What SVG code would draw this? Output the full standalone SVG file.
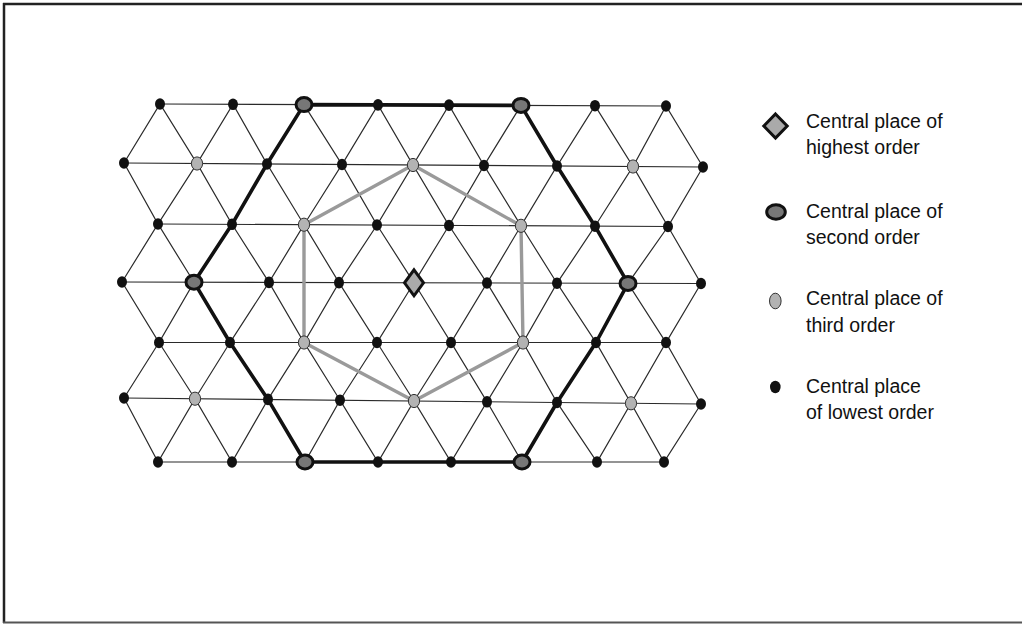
<svg xmlns="http://www.w3.org/2000/svg" xmlns:xlink="http://www.w3.org/1999/xlink" width="1022" height="624" viewBox="0 0 1022 624">
<style>
.lat{fill:none;stroke:#2a2a2a;stroke-width:1.2;stroke-linejoin:miter}
.hexb{fill:none;stroke:#111;stroke-width:3.6;stroke-linejoin:round}
.hexg{fill:none;stroke:#9a9a9a;stroke-width:3.4;stroke-linejoin:round}
.lo{fill:#111}
.th{fill:#b3b3b3;stroke:#333;stroke-width:1}
.se{fill:#777;stroke:#111;stroke-width:3}
.di{fill:#aaa;stroke:#111;stroke-width:3;stroke-linejoin:miter}
.lbl{font-family:"Liberation Sans",Arial,sans-serif;font-size:19.5px;fill:#111}
</style>
<defs>
<ellipse id="lo" cx="0" cy="0" rx="5" ry="5.8" class="lo"/>
<ellipse id="th" cx="0" cy="0" rx="5.6" ry="6.6" class="th"/>
<ellipse id="se" cx="0" cy="0" rx="8" ry="7" class="se"/>
</defs>
<rect width="1022" height="624" fill="#fff"/>
<g id="frame" fill="none">
<line x1="3" y1="4" x2="1022" y2="4" stroke="#222" stroke-width="2.5"/>
<line x1="4" y1="3" x2="4" y2="623" stroke="#222" stroke-width="2.5"/>
<line x1="3" y1="622.5" x2="1022" y2="622.5" stroke="#555" stroke-width="1.8"/>
</g>
<g id="connectors">
<g id="lattice" class="lat">
<line x1="160" y1="104" x2="666" y2="106"/>
<line x1="124" y1="163" x2="703" y2="167"/>
<line x1="158" y1="224" x2="668" y2="226.5"/>
<line x1="122" y1="282" x2="701" y2="283.5"/>
<line x1="159" y1="342.5" x2="666" y2="342.5"/>
<line x1="124" y1="398" x2="701" y2="404"/>
<line x1="158" y1="462" x2="664" y2="462"/>
<polyline points="124,163 160,104 197,163.5 233,104.3 267,164 304,104.6 342,164.5 378,104.9 413,165 449,105.1 484,165.5 521,105.4 557,166 595,105.7 633,166.5 666,106 703,167"/>
<polyline points="124,163 158,224 197,163.5 232,224.3 267,164 304,224.7 342,164.5 377,225 413,165 449,225.5 484,165.5 521,225.8 557,166 595,226.2 633,166.5 668,226.5 703,167"/>
<polyline points="122,282 158,224 194,282.2 232,224.3 269,282.4 304,224.7 339,282.6 377,225 414,282.8 449,225.5 487,283 521,225.8 557,283.2 595,226.2 628,283.4 668,226.5 701,283.5"/>
<polyline points="122,282 159,342.5 194,282.2 230,342.5 269,282.4 304,342.5 339,282.6 377,342.5 414,282.8 451,342.5 487,283 523,342.5 557,283.2 596,342.5 628,283.4 666,342.5 701,283.5"/>
<polyline points="124,398 159,342.5 195,398.7 230,342.5 268,399.4 304,342.5 340,400.2 377,342.5 414,401 451,342.5 487,401.8 523,342.5 557,402.5 596,342.5 631,403.3 666,342.5 701,404"/>
<polyline points="124,398 158,462 195,398.7 232,462 268,399.4 305,462 340,400.2 378,462 414,401 451,462 487,401.8 522,462 557,402.5 597,462 631,403.3 664,462 701,404"/>
</g>
<polygon id="hex-third" class="hexg" points="413,165 521,225.8 523,342.5 414,401 304,342.5 304,224.7"/>
<polygon id="hex-second" class="hexb" points="304,104.6 378,104.9 449,105.1 521,105.4 557,166 595,226.2 628,283.4 596,342.5 557,402.5 522,462 451,462 378,462 305,462 268,399.4 230,342.5 194,282.2 232,224.3 267,164"/>
</g>
<g id="nodes">
<g id="r0n0"><use xlink:href="#lo" x="160" y="104"/></g>
<g id="r0n1"><use xlink:href="#lo" x="233" y="104.3"/></g>
<g id="r0n2"><use xlink:href="#se" x="304" y="104.6"/></g>
<g id="r0n3"><use xlink:href="#lo" x="378" y="104.9"/></g>
<g id="r0n4"><use xlink:href="#lo" x="449" y="105.1"/></g>
<g id="r0n5"><use xlink:href="#se" x="521" y="105.4"/></g>
<g id="r0n6"><use xlink:href="#lo" x="595" y="105.7"/></g>
<g id="r0n7"><use xlink:href="#lo" x="666" y="106"/></g>

<g id="r1n0"><use xlink:href="#lo" x="124" y="163"/></g>
<g id="r1n1"><use xlink:href="#th" x="197" y="163.5"/></g>
<g id="r1n2"><use xlink:href="#lo" x="267" y="164"/></g>
<g id="r1n3"><use xlink:href="#lo" x="342" y="164.5"/></g>
<g id="r1n4"><use xlink:href="#th" x="413" y="165"/></g>
<g id="r1n5"><use xlink:href="#lo" x="484" y="165.5"/></g>
<g id="r1n6"><use xlink:href="#lo" x="557" y="166"/></g>
<g id="r1n7"><use xlink:href="#th" x="633" y="166.5"/></g>
<g id="r1n8"><use xlink:href="#lo" x="703" y="167"/></g>

<g id="r2n0"><use xlink:href="#lo" x="158" y="224"/></g>
<g id="r2n1"><use xlink:href="#lo" x="232" y="224.3"/></g>
<g id="r2n2"><use xlink:href="#th" x="304" y="224.7"/></g>
<g id="r2n3"><use xlink:href="#lo" x="377" y="225"/></g>
<g id="r2n4"><use xlink:href="#lo" x="449" y="225.5"/></g>
<g id="r2n5"><use xlink:href="#th" x="521" y="225.8"/></g>
<g id="r2n6"><use xlink:href="#lo" x="595" y="226.2"/></g>
<g id="r2n7"><use xlink:href="#lo" x="668" y="226.5"/></g>

<g id="r3n0"><use xlink:href="#lo" x="122" y="282"/></g>
<g id="r3n1"><use xlink:href="#se" x="194" y="282.2"/></g>
<g id="r3n2"><use xlink:href="#lo" x="269" y="282.4"/></g>
<g id="r3n3"><use xlink:href="#lo" x="339" y="282.6"/></g>
<g id="r3n4"><path class="di" d="M414,269.8 L423.5,282.8 L414,295.8 L404.5,282.8 Z"/></g>
<g id="r3n5"><use xlink:href="#lo" x="487" y="283"/></g>
<g id="r3n6"><use xlink:href="#lo" x="557" y="283.2"/></g>
<g id="r3n7"><use xlink:href="#se" x="628" y="283.4"/></g>
<g id="r3n8"><use xlink:href="#lo" x="701" y="283.5"/></g>

<g id="r4n0"><use xlink:href="#lo" x="159" y="342.5"/></g>
<g id="r4n1"><use xlink:href="#lo" x="230" y="342.5"/></g>
<g id="r4n2"><use xlink:href="#th" x="304" y="342.5"/></g>
<g id="r4n3"><use xlink:href="#lo" x="377" y="342.5"/></g>
<g id="r4n4"><use xlink:href="#lo" x="451" y="342.5"/></g>
<g id="r4n5"><use xlink:href="#th" x="523" y="342.5"/></g>
<g id="r4n6"><use xlink:href="#lo" x="596" y="342.5"/></g>
<g id="r4n7"><use xlink:href="#lo" x="666" y="342.5"/></g>

<g id="r5n0"><use xlink:href="#lo" x="124" y="398"/></g>
<g id="r5n1"><use xlink:href="#th" x="195" y="398.7"/></g>
<g id="r5n2"><use xlink:href="#lo" x="268" y="399.4"/></g>
<g id="r5n3"><use xlink:href="#lo" x="340" y="400.2"/></g>
<g id="r5n4"><use xlink:href="#th" x="414" y="401"/></g>
<g id="r5n5"><use xlink:href="#lo" x="487" y="401.8"/></g>
<g id="r5n6"><use xlink:href="#lo" x="557" y="402.5"/></g>
<g id="r5n7"><use xlink:href="#th" x="631" y="403.3"/></g>
<g id="r5n8"><use xlink:href="#lo" x="701" y="404"/></g>

<g id="r6n0"><use xlink:href="#lo" x="158" y="462"/></g>
<g id="r6n1"><use xlink:href="#lo" x="232" y="462"/></g>
<g id="r6n2"><use xlink:href="#se" x="305" y="462"/></g>
<g id="r6n3"><use xlink:href="#lo" x="378" y="462"/></g>
<g id="r6n4"><use xlink:href="#lo" x="451" y="462"/></g>
<g id="r6n5"><use xlink:href="#se" x="522" y="462"/></g>
<g id="r6n6"><use xlink:href="#lo" x="597" y="462"/></g>
<g id="r6n7"><use xlink:href="#lo" x="664" y="462"/></g>
</g>
<g id="legend">
<g id="legend-highest">
<path class="di" d="M775.5,114 L787.2,126 L775.5,138 L763.8,126 Z"/>
<text class="lbl" x="806" y="127.5">Central place of</text>
<text class="lbl" x="806" y="154">highest order</text>
</g>
<g id="legend-second">
<ellipse class="se" cx="776" cy="212" rx="9.3" ry="7.3"/>
<text class="lbl" x="806" y="217.5">Central place of</text>
<text class="lbl" x="806" y="243.5">second order</text>
</g>
<g id="legend-third">
<ellipse class="th" cx="775.3" cy="301" rx="5.8" ry="7.8"/>
<text class="lbl" x="806" y="305">Central place of</text>
<text class="lbl" x="806" y="331.5">third order</text>
</g>
<g id="legend-lowest">
<ellipse class="lo" cx="775.3" cy="387" rx="5.3" ry="6.2"/>
<text class="lbl" x="806" y="393">Central place</text>
<text class="lbl" x="806" y="418.5">of lowest order</text>
</g>
</g>
</svg>
